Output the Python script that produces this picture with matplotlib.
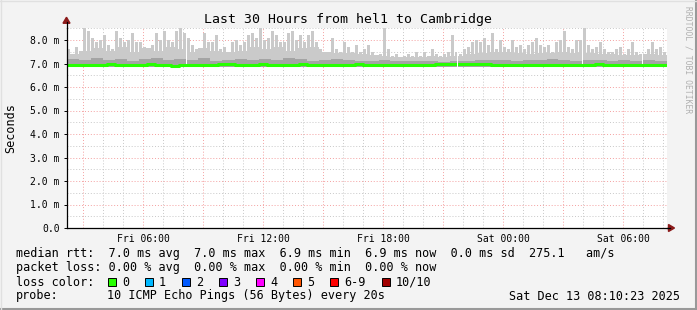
import numpy as np
import matplotlib
matplotlib.use("Agg")
import matplotlib.pyplot as plt
from matplotlib.patches import Rectangle
from matplotlib.lines import Line2D

# ---------------- data ----------------
title = "Last 30 Hours from hel1 to Cambridge"
t_start = 2 + 10.38 / 60.0          # Fri 02:10:23 (hours since Fri 00:00)
t_end = t_start + 30.0              # Sat 08:10:23
outage = (21.68, 21.77)             # short data gap (hours since Fri 00:00)

tick_hours = [6, 12, 18, 24, 30]
tick_labels = ["Fri 06:00", "Fri 12:00", "Fri 18:00", "Sat 00:00", "Sat 06:00"]
ytick_vals = [0, 1, 2, 3, 4, 5, 6, 7, 8]
ytick_labels = ["0.0", "1.0 m", "2.0 m", "3.0 m", "4.0 m", "5.0 m", "6.0 m", "7.0 m", "8.0 m"]

# max ping per interval (ms)
smoke_max = [
    7.6, 7.3, 7.7, 7.5, 8.5, 8.4, 8.1, 7.9, 8.0, 8.2, 7.8, 7.6, 8.4, 8.1, 7.9, 8.0, 8.3, 7.9, 7.9, 7.7,
    7.6, 7.8, 8.3, 8.0, 8.4, 8.0, 7.9, 8.4, 8.5, 8.3, 8.1, 7.8, 7.6, 7.4, 8.3, 7.9, 7.9, 8.2,
    7.6, 7.7, 7.5, 7.9, 8.0, 7.8, 7.9, 8.2, 8.3, 8.1, 8.5, 8.0, 8.1, 8.4, 8.2, 7.9, 7.9, 8.3, 8.4, 8.0,
    8.2, 7.9, 8.2, 8.4, 7.9, 7.6, 7.5, 7.4, 8.1, 7.6, 7.5, 7.9, 7.7, 7.5, 7.8, 7.5, 7.6,
    7.8, 7.5, 7.3, 7.4, 8.5, 7.6, 7.3, 7.4, 7.2, 7.3, 7.4, 7.3, 7.5, 7.3, 7.5, 7.3, 7.6, 7.4, 7.3, 7.4,
    7.5, 8.2, 7.5, 7.4, 7.6, 7.7, 7.9, 8.0, 7.9, 8.1, 7.8, 8.3, 7.6, 8.0, 7.7, 7.6, 8.0,
    7.7, 7.8, 7.6, 7.8, 7.9, 8.1, 7.8, 7.7, 7.8, 7.5, 7.9, 8.0, 8.4, 7.7, 7.6, 8.0, 8.0, 8.5, 7.8, 7.6,
    7.7, 7.9, 7.6, 7.5, 7.5, 7.6, 7.7, 7.4, 7.6, 7.9, 7.5, 7.4, 7.3, 7.6, 7.9, 7.6, 7.7, 7.5,
]

# upper edge of the dense light smoke (ms)
smoke_p75 = [
    7.40, 7.55, 7.65, 7.55, 7.70, 7.50, 7.65, 7.55, 7.70, 7.60, 7.50, 7.65, 7.55,
    7.50, 7.55, 7.70, 7.60, 7.70, 7.55, 7.65, 7.70, 7.50, 7.45, 7.45, 7.40, 7.35,
    7.30, 7.28, 7.27, 7.28, 7.32, 7.28, 7.32, 7.40, 7.45, 7.50, 7.50, 7.45, 7.40,
    7.45, 7.45, 7.50, 7.45, 7.45, 7.40, 7.40, 7.35, 7.35, 7.40, 7.35,
]

# upper edge of the darker smoke band (ms)
smoke_mid = [
    7.18, 7.14, 7.22, 7.16, 7.20, 7.12, 7.18, 7.22, 7.14, 7.19, 7.15, 7.22, 7.12, 7.17, 7.20, 7.14,
    7.19, 7.15, 7.22, 7.18, 7.12, 7.17, 7.20, 7.14, 7.10, 7.12, 7.15, 7.10, 7.12, 7.09, 7.11, 7.08,
    7.10, 7.12, 7.15, 7.13, 7.16, 7.11, 7.15, 7.13, 7.18, 7.15, 7.11, 7.16, 7.13, 7.11, 7.15, 7.10,
    7.13, 7.09,
]

# lower edge of smoke (ms)
smoke_min = [
    6.85, 6.84, 6.86, 6.85, 6.84, 6.86, 6.85, 6.85, 6.84, 6.86, 6.85, 6.84, 6.85, 6.86, 6.85, 6.84,
    6.85, 6.86, 6.85, 6.84, 6.85, 6.86, 6.85, 6.84, 6.85, 6.86, 6.85, 6.84, 6.85, 6.85, 6.86, 6.85,
    6.86, 6.87, 6.86, 6.85, 6.84, 6.85, 6.86, 6.85, 6.84, 6.83, 6.84, 6.85, 6.86, 6.85, 6.84, 6.85,
    6.86, 6.85,
]

# median rtt (ms)
median = [
    6.95, 6.94, 6.93, 6.95, 6.94, 6.96, 6.95, 6.93, 6.94, 6.95, 6.96, 6.94, 6.92, 6.91, 6.93, 6.94,
    6.95, 6.94, 6.93, 6.96, 6.97, 6.95, 6.94, 6.95, 6.96, 6.94, 6.95, 6.94, 6.95, 6.96, 6.94, 6.95,
    6.94, 6.95, 6.94, 6.95, 6.96, 6.95, 6.94, 6.95, 6.94, 6.95, 6.94, 6.95, 6.94, 6.95, 6.96, 6.97,
    6.98, 6.99, 6.98, 6.97, 6.96, 6.95, 6.94, 6.95, 6.94, 6.93, 6.92, 6.94, 6.95, 6.94, 6.93, 6.92,
    6.94, 6.95, 6.96, 6.95, 6.94, 6.95, 6.94, 6.95, 6.95, 6.94, 6.95,
]

stats_rtt = "median rtt:  7.0 ms avg  7.0 ms max  6.9 ms min  6.9 ms now  0.0 ms sd  275.1   am/s"
stats_loss = "packet loss: 0.00 % avg  0.00 % max  0.00 % min  0.00 % now"
loss_labels = ["0", "1", "2", "3", "4", "5", "6-9", "10/10"]
loss_colors = ["#26ff00", "#00b8ff", "#0059ff", "#7e00ff", "#ff00ff", "#ff5500", "#ff0000", "#a10000"]
probe_text = "10 ICMP Echo Pings (56 Bytes) every 20s"
date_text = "Sat Dec 13 08:10:23 2025"

# ---------------- figure ----------------
W, H = 697, 310
fig = plt.figure(figsize=(W / 100, H / 100), dpi=100)
fig.patch.set_facecolor("#f3f3f3")
mono = "DejaVu Sans Mono"

def fx(px):
    return px / W

def fy(py):
    return 1 - py / H

x0, x1 = 66.5, 666.5
y_bottom, y_top = 228.0, 28.25
ax = fig.add_axes([fx(x0), fy(y_bottom), (x1 - x0) / W, (y_bottom - y_top) / H])
ax.set_facecolor("white")
ax.set_xlim(t_start, t_end)
ax.set_ylim(0, 8.5)

# grid
for h in range(3, 33):
    if t_start < h < t_end:
        col = "#f4a0a0" if h % 3 == 0 else "#c8c8c8"
        ax.axvline(h, color=col, lw=0.7, ls=(0, (1, 2)), zorder=1)
for v in np.arange(0.5, 8.51, 0.5):
    col = "#f4a0a0" if abs(v - round(v)) < 1e-6 else "#c8c8c8"
    ax.axhline(v, color=col, lw=0.7, ls=(0, (1, 2)), zorder=1)

def edges_for(n):
    return np.linspace(t_start, t_end, n + 1)

# smoke
e_max = edges_for(len(smoke_max))
e_band = edges_for(len(smoke_mid))
smax = np.array(smoke_max)
smin = np.array(smoke_min)
sp75 = np.array(smoke_p75)
smid = np.array(smoke_mid)
w_max = np.diff(e_max)
ax.bar(e_max[:-1] + 0.1 * w_max, smax - 7.0, bottom=7.0, width=0.75 * w_max, align="edge",
       color="#cacaca", linewidth=0, zorder=2)
ax.bar(e_band[:-1], sp75 - smin, bottom=smin, width=np.diff(e_band), align="edge",
       color="#cacaca", linewidth=0, zorder=2)
ax.bar(e_band[:-1], smid - smin, bottom=smin, width=np.diff(e_band), align="edge",
       color="#a4a4a4", linewidth=0, zorder=3)

# median line
e_med = edges_for(len(median))
med = np.array(median + [median[-1]])
ax.step(e_med, med, where="post", color="#26ff00", lw=2.2, zorder=4, solid_capstyle="butt")

# data gap
ax.fill_between(list(outage), 6.7, 8.6, color="white", lw=0, zorder=5)

# axes styling
for s in ["top", "right"]:
    ax.spines[s].set_visible(False)
ax.spines["left"].set_linewidth(0.9)
ax.spines["bottom"].set_linewidth(0.9)
ax.spines["left"].set_zorder(6)
ax.spines["bottom"].set_zorder(6)
ax.set_yticks(ytick_vals)
ax.set_yticklabels(ytick_labels, fontfamily=mono, fontsize=7)
ax.set_xticks(tick_hours)
ax.set_xticklabels(tick_labels, fontfamily=mono, fontsize=7)
ax.tick_params(axis="both", length=2, width=0.7, pad=3, colors="black")
ax.tick_params(axis="x", length=0, pad=4.5)
ax.set_ylabel("Seconds", fontfamily=mono, fontsize=8.5, labelpad=9)

# axis extensions and arrows
fig.add_artist(Line2D([fx(x0), fx(x0)], [fy(y_top), fy(y_top - 6)], color="black", lw=0.9))
fig.add_artist(Line2D([fx(x1), fx(x1 + 3)], [fy(y_bottom), fy(y_bottom)], color="black", lw=0.9))
fig.add_artist(plt.Polygon([[fx(x0 - 3.5), fy(y_top - 5)], [fx(x0 + 3.5), fy(y_top - 5)],
                            [fx(x0), fy(y_top - 11)]], closed=True, color="#8b1a1a"))
fig.add_artist(plt.Polygon([[fx(x1 + 2), fy(y_bottom - 3.5)], [fx(x1 + 2), fy(y_bottom + 3.5)],
                            [fx(x1 + 8), fy(y_bottom)]], closed=True, color="#8b1a1a"))

# title
fig.text(fx(347.5), fy(19), title, ha="center", va="center", fontfamily=mono, fontsize=9.5)

# watermark
fig.text(fx(688), fy(6), "RRDTOOL / TOBI OETIKER", rotation=270, ha="center", va="top",
         fontfamily=mono, fontsize=5.8, color="#b0b0b0")

# legend
fig.text(fx(16), fy(254), stats_rtt, ha="left", va="center", fontfamily=mono, fontsize=8.5)
fig.text(fx(16), fy(268), stats_loss, ha="left", va="center", fontfamily=mono, fontsize=8.5)
fig.text(fx(16), fy(282), "loss color:", ha="left", va="center", fontfamily=mono, fontsize=8.5)
box_x = [108, 145, 182, 219, 256, 293, 330, 382]
for bx, lab, col in zip(box_x, loss_labels, loss_colors):
    fig.add_artist(Rectangle((fx(bx), fy(286)), 8 / W, 8 / H, facecolor=col,
                             edgecolor="black", lw=0.7))
    fig.text(fx(bx + 14), fy(282), lab, ha="left", va="center", fontfamily=mono, fontsize=8.5)
fig.text(fx(16), fy(296), "probe:", ha="left", va="center", fontfamily=mono, fontsize=8.5)
fig.text(fx(107), fy(296), probe_text, ha="left", va="center", fontfamily=mono, fontsize=8.5)
fig.text(fx(680), fy(296), date_text, ha="right", va="center", fontfamily=mono, fontsize=8.5)

# frame
fig.add_artist(Line2D([0, 1], [fy(309), fy(309)], color="#999999", lw=1.5))
fig.add_artist(Line2D([fx(696), fx(696)], [0, 1], color="#999999", lw=1.5))
fig.add_artist(Line2D([0, 1], [fy(0.5), fy(0.5)], color="#e0e0e0", lw=1))
fig.add_artist(Line2D([fx(0.5), fx(0.5)], [0, 1], color="#e0e0e0", lw=1))

fig.savefig("out.png", dpi=100, facecolor=fig.get_facecolor())
